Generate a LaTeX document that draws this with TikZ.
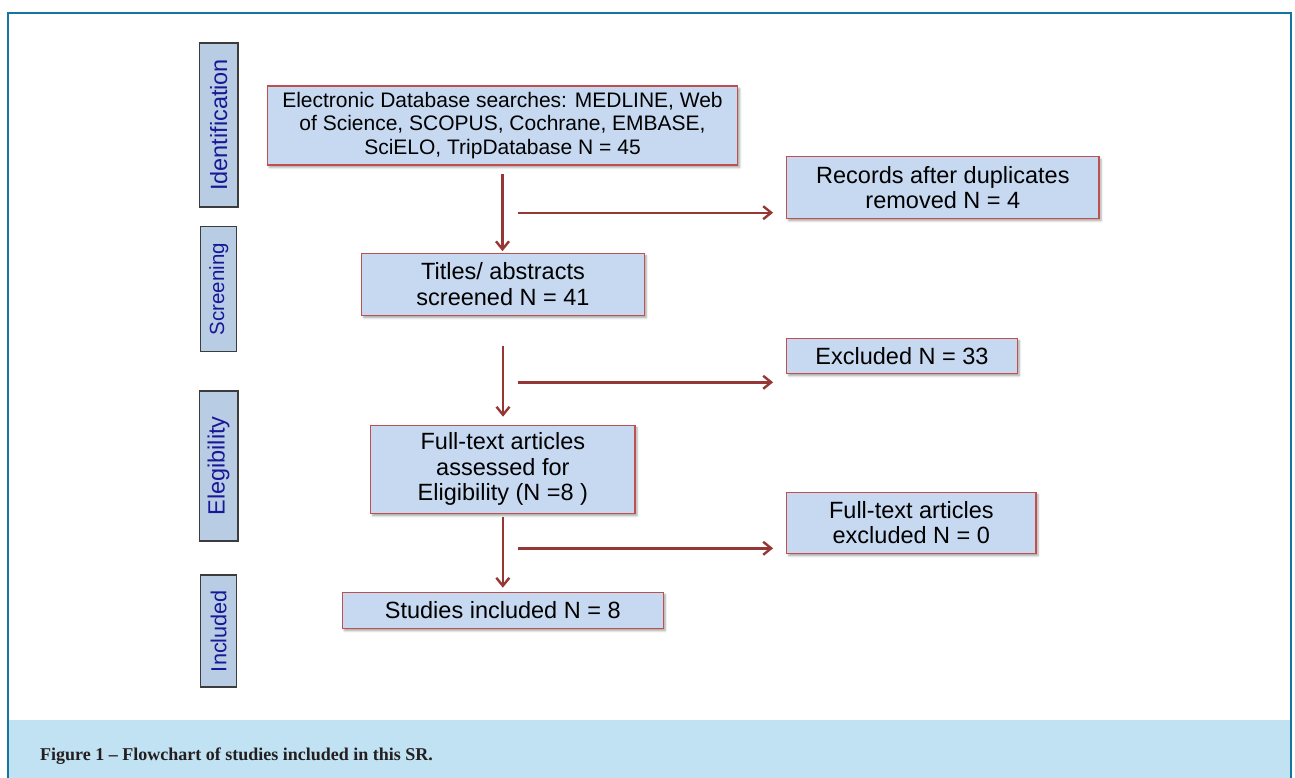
\documentclass[tikz,border=0pt]{standalone}
\usepackage{fontspec}
\setmainfont{Liberation Sans}
\newfontfamily\capfont{Liberation Serif}
\usetikzlibrary{arrows.meta,shadows.blur}
\definecolor{boxfill}{RGB}{198,217,241}
\definecolor{boxline}{RGB}{192,80,77}
\definecolor{sidefill}{RGB}{184,204,228}
\definecolor{sideline}{RGB}{60,60,60}
\definecolor{sidetext}{RGB}{24,24,150}
\definecolor{arrowred}{RGB}{149,55,53}
\definecolor{framecol}{RGB}{22,117,160}
\definecolor{bandcol}{RGB}{193,226,243}
\tikzset{
  mainbox/.style={draw=boxline, fill=boxfill, line width=1.2pt, inner sep=0pt, align=center,
    font=\fontsize{23.5}{25.5}\selectfont,
    blur shadow={shadow xshift=2pt, shadow yshift=-2.5pt, shadow blur radius=2pt, shadow opacity=35}},
  sidebox/.style={draw=sideline, fill=sidefill, line width=1.2pt, inner sep=0pt, rotate=90,
    text=sidetext},
  arr/.style={draw=arrowred, line width=2.4pt, -{Straight Barb[length=8pt,width=13pt]}}
}
\begin{document}
\begin{tikzpicture}[x=1pt,y=-1pt]
\useasboundingbox (0,0) rectangle (1295,778);
% caption band and frame
\fill[bandcol] (8.3,720) rectangle (1291.3,778);
\draw[framecol, line width=2.3pt] (8.3,778) -- (8.3,12.7) -- (1291.3,12.7) -- (1291.3,778);
\node[anchor=base west, inner sep=0pt, font=\capfont\bfseries\fontsize{18}{20}\selectfont, text={rgb,255:red,35;green,31;blue,32}] (cap) at (40,760) {Figure 1 – Flowchart of studies included in this SR.};

% side labels
\node[sidebox, minimum width=164pt, minimum height=38.5pt, font=\fontsize{23.5}{25}\selectfont] (ident) at (218.75,125) {Identification};
\node[sidebox, minimum width=125pt, minimum height=36pt, font=\fontsize{20.5}{22}\selectfont] (screen) at (218.7,289.2) {Screening};
\node[sidebox, minimum width=150pt, minimum height=38.7pt, font=\fontsize{23.5}{25}\selectfont] (elig) at (218.65,466) {Elegibility};
\node[sidebox, minimum width=112pt, minimum height=36pt, font=\fontsize{21.7}{23}\selectfont] (incl) at (218.7,631) {Included};

% main boxes
\node[mainbox, minimum width=470.4pt, minimum height=79pt, font=\fontsize{21}{23.3}\selectfont] (db) at (502.5,125.5)
  {Electronic Database searches: MEDLINE, Web\\ of Science, SCOPUS, Cochrane, EMBASE,\\ SciELO, TripDatabase N = 45};
\node[mainbox, minimum width=312.3pt, minimum height=61.6pt] (rec) at (942.85,187.5)
  {Records after duplicates\\ removed N = 4};
\node[mainbox, minimum width=282.6pt, minimum height=62pt] (titles) at (503,284.3)
  {Titles/ abstracts\\ screened N = 41};
\node[mainbox, minimum width=230.6pt, minimum height=35pt] (excl) at (902,355.8)
  {Excluded N = 33};
\node[mainbox, minimum width=264.3pt, minimum height=88pt] (full) at (502.85,469.3)
  {Full-text articles\\ assessed for\\ Eligibility (N =8 )};
\node[mainbox, minimum width=249.3pt, minimum height=61pt] (ftex) at (911.35,522.8)
  {Full-text articles\\ excluded N = 0};
\node[mainbox, minimum width=321pt, minimum height=36pt] (stud) at (502.8,610.3)
  {Studies included N = 8};

% vertical arrows
\draw[arr, shorten <=8pt, shorten >=1.5pt] (db.south) -- (db.south |- titles.north);
\draw[arr, shorten <=30pt, shorten >=8pt] (titles.south) -- (titles.south |- full.north);
\draw[arr, shorten <=3pt, shorten >=4pt] (full.south) -- (full.south |- stud.north);

% horizontal arrows
\coordinate (h1) at (517.7,212.7);
\coordinate (h2) at (517.7,382.3);
\coordinate (h3) at (517.7,548.3);
\draw[arr, shorten >=13pt] (h1) -- (h1 -| rec.west);
\draw[arr, shorten >=13pt] (h2) -- (h2 -| excl.west);
\draw[arr, shorten >=13pt] (h3) -- (h3 -| ftex.west);
\end{tikzpicture}
\end{document}
